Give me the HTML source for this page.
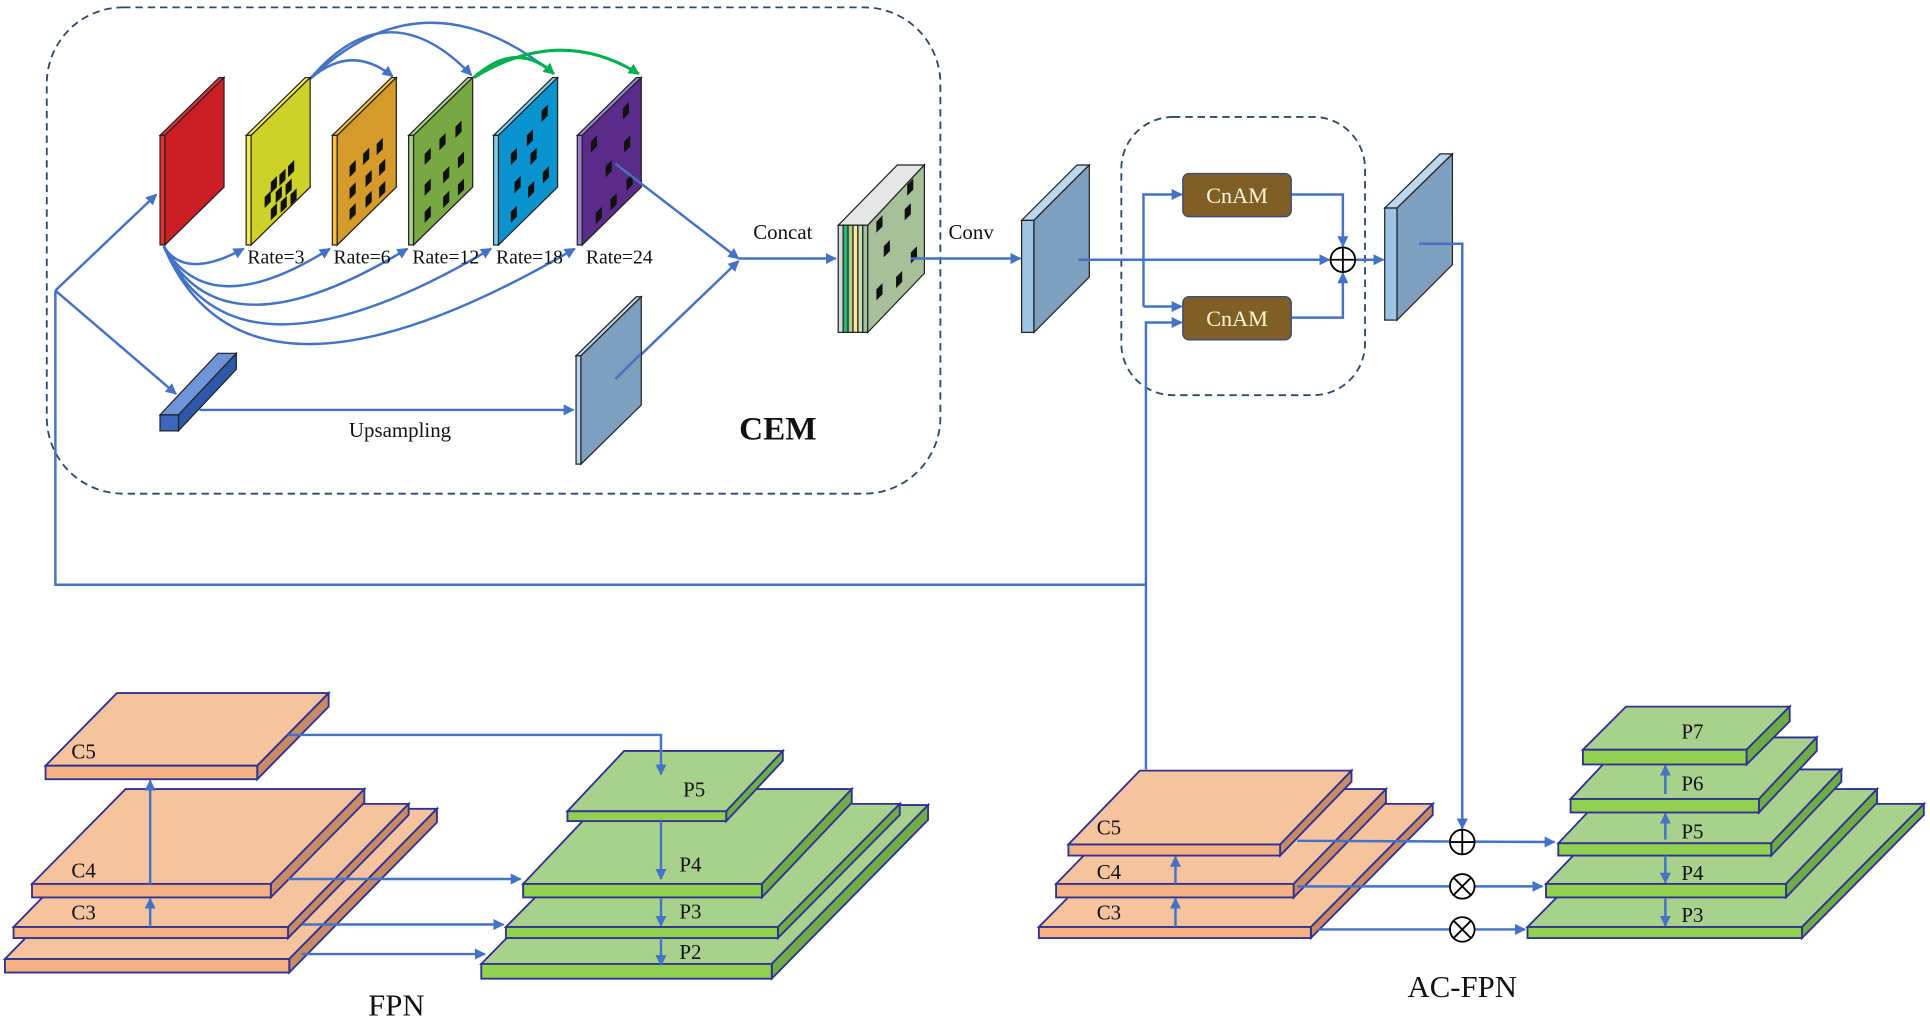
<!DOCTYPE html>
<html><head><meta charset="utf-8"><style>
html,body{margin:0;padding:0;background:#fff;}
svg{display:block;}
text{font-family:"Liberation Serif",serif;fill:#111;}
</style></head><body>
<svg width="1930" height="1023" viewBox="0 0 1568 831" preserveAspectRatio="none" xmlns="http://www.w3.org/2000/svg">
<defs>
<marker id="ab" viewBox="0 0 10 10" refX="9" refY="5" markerWidth="9" markerHeight="9" orient="auto" markerUnits="userSpaceOnUse"><path d="M0,0 L10,5 L0,10 z" fill="#4472c4"/></marker>
<marker id="ag" viewBox="0 0 10 10" refX="9" refY="5" markerWidth="9" markerHeight="9" orient="auto" markerUnits="userSpaceOnUse"><path d="M0,0 L10,5 L0,10 z" fill="#00b050"/></marker>
<polygon id="sq" points="0,0 5,-5 5,4 0,9" fill="#111"/>
</defs>

<rect x="38" y="6" width="726" height="395" rx="62" fill="none" stroke="#2f4a6e" stroke-width="1.5" stroke-dasharray="6,4"/>
<rect x="911" y="95" width="198" height="226" rx="42" fill="none" stroke="#2f4a6e" stroke-width="1.5" stroke-dasharray="6,4"/>

<g fill="none" stroke="#4472c4" stroke-width="2">
<path d="M133,200 Q150,228 198,202" marker-end="url(#ab)"/>
<path d="M133,200 Q170,264 268,202" marker-end="url(#ab)"/>
<path d="M133,200 Q180,294 331,202" marker-end="url(#ab)"/>
<path d="M133,200 Q190,326 399,202" marker-end="url(#ab)"/>
<path d="M133,200 Q200,358 467,202" marker-end="url(#ab)"/>
<path d="M252,64 Q285,35 319,62" marker-end="url(#ab)"/>
<path d="M252,64 Q315,-10 383,61" marker-end="url(#ab)"/>
<path d="M252,64 Q345,-25 450,60" marker-end="url(#ab)"/>
</g>
<g fill="none" stroke="#00b050" stroke-width="2.5">
<path d="M385,63 Q420,32 450,60" marker-end="url(#ag)"/>
<path d="M385,63 Q455,20 519,60" marker-end="url(#ag)"/>
</g>

<g transform="translate(130,0)"><polygon points="0,110 4,110 52,63 48,63" fill="#e0302f" stroke="#222" stroke-width="1"/><rect x="0" y="110" width="4" height="89" fill="#e0302f" stroke="#222" stroke-width="1"/><polygon points="4,110 52,63 52,152 4,199" fill="#cc1f25" stroke="#222" stroke-width="1"/></g>
<g transform="translate(200,0)"><polygon points="0,110 4,110 52,63 48,63" fill="#f4ee5a" stroke="#222" stroke-width="1"/><rect x="0" y="110" width="4" height="89" fill="#f4ee5a" stroke="#222" stroke-width="1"/><polygon points="4,110 52,63 52,152 4,199" fill="#cdd12a" stroke="#222" stroke-width="1"/>
<use href="#sq" x="20" y="148"/><use href="#sq" x="27" y="142"/><use href="#sq" x="34" y="135"/><use href="#sq" x="15" y="160"/><use href="#sq" x="24" y="156"/><use href="#sq" x="32" y="150"/><use href="#sq" x="20" y="170"/><use href="#sq" x="28" y="164"/><use href="#sq" x="36" y="158"/></g>
<g transform="translate(270,0)"><polygon points="0,110 4,110 52,63 48,63" fill="#f5c040" stroke="#222" stroke-width="1"/><rect x="0" y="110" width="4" height="89" fill="#f5c040" stroke="#222" stroke-width="1"/><polygon points="4,110 52,63 52,152 4,199" fill="#d49a2a" stroke="#222" stroke-width="1"/>
<use href="#sq" x="14" y="135"/><use href="#sq" x="25" y="125"/><use href="#sq" x="36" y="117"/><use href="#sq" x="14" y="153"/><use href="#sq" x="27" y="143"/><use href="#sq" x="38" y="134"/><use href="#sq" x="14" y="170"/><use href="#sq" x="27" y="160"/><use href="#sq" x="38" y="152"/></g>
<g transform="translate(332,0)"><polygon points="0,110 4,110 52,63 48,63" fill="#a9d18e" stroke="#222" stroke-width="1"/><rect x="0" y="110" width="4" height="89" fill="#a9d18e" stroke="#222" stroke-width="1"/><polygon points="4,110 52,63 52,152 4,199" fill="#77a844" stroke="#222" stroke-width="1"/>
<use href="#sq" x="13" y="125"/><use href="#sq" x="25" y="113"/><use href="#sq" x="38" y="103"/><use href="#sq" x="13" y="150"/><use href="#sq" x="28" y="140"/><use href="#sq" x="40" y="128"/><use href="#sq" x="13" y="172"/><use href="#sq" x="28" y="160"/><use href="#sq" x="40" y="150"/></g>
<g transform="translate(401,0)"><polygon points="0,110 4,110 52,63 48,63" fill="#7fd0f0" stroke="#222" stroke-width="1"/><rect x="0" y="110" width="4" height="89" fill="#7fd0f0" stroke="#222" stroke-width="1"/><polygon points="4,110 52,63 52,152 4,199" fill="#0b93cf" stroke="#222" stroke-width="1"/>
<use href="#sq" x="14" y="125"/><use href="#sq" x="27" y="110"/><use href="#sq" x="39" y="90"/><use href="#sq" x="17" y="148"/><use href="#sq" x="30" y="125"/><use href="#sq" x="40" y="140"/><use href="#sq" x="14" y="172"/><use href="#sq" x="28" y="152"/></g>
<g transform="translate(469,0)"><polygon points="0,110 4,110 52,63 48,63" fill="#9b7fd0" stroke="#222" stroke-width="1"/><rect x="0" y="110" width="4" height="89" fill="#9b7fd0" stroke="#222" stroke-width="1"/><polygon points="4,110 52,63 52,152 4,199" fill="#5b2b8a" stroke="#222" stroke-width="1"/>
<use href="#sq" x="11" y="115"/><use href="#sq" x="37" y="88"/><use href="#sq" x="23" y="135"/><use href="#sq" x="38" y="115"/><use href="#sq" x="15" y="173"/><use href="#sq" x="27" y="162"/><use href="#sq" x="40" y="146"/></g>

<g font-size="16">
<text x="201" y="214">Rate=3</text><text x="271" y="214">Rate=6</text><text x="335" y="214">Rate=12</text><text x="403" y="214">Rate=18</text><text x="476" y="214">Rate=24</text>
</g>

<g fill="none" stroke="#4472c4" stroke-width="2">
<polyline points="45,236 45,475 931,475"/>
<line x1="45" y1="236" x2="127" y2="158" marker-end="url(#ab)"/>
<line x1="45" y1="236" x2="143" y2="320" marker-end="url(#ab)"/>
<line x1="162" y1="333" x2="466" y2="333" marker-end="url(#ab)"/>
<line x1="500" y1="133" x2="600" y2="210" marker-end="url(#ab)"/>
<line x1="500" y1="308" x2="600" y2="212" marker-end="url(#ab)"/>
<line x1="600" y1="210" x2="679" y2="210" marker-end="url(#ab)"/>
</g>
<polygon points="130,337 145,337 192,287 177,287" fill="#6f95d8" stroke="#222" stroke-width="1"/>
<polygon points="145,337 192,287 192,300 145,350" fill="#2f59a8" stroke="#222" stroke-width="1"/>
<rect x="130" y="337" width="15" height="13" fill="#3d67bd" stroke="#222" stroke-width="1"/>
<polygon points="468,289 472,289 521,241 517,241" fill="#bdd7ee" stroke="#222" stroke-width="1"/>
<rect x="468" y="289" width="4" height="88" fill="#bdd7ee" stroke="#222" stroke-width="1"/>
<polygon points="472,289 521,241 521,329 472,377" fill="#7f9fbf" stroke="#222" stroke-width="1"/>
<line x1="500" y1="308" x2="520" y2="288" stroke="#4472c4" stroke-width="2"/>
<text x="325" y="355" font-size="17" text-anchor="middle">Upsampling</text>
<text x="632" y="357" font-size="27" font-weight="bold" text-anchor="middle">CEM</text>
<text x="636" y="194" font-size="17" text-anchor="middle">Concat</text>

<g stroke="#222" stroke-width="1">
<polygon points="681,183 729,134 751,134 705,183" fill="#e7e6e6"/>
<rect x="681" y="183" width="4" height="87" fill="#d9d9d9"/>
<rect x="685" y="183" width="4" height="87" fill="#2bb673"/>
<rect x="689" y="183" width="4" height="87" fill="#a9d18e"/>
<rect x="693" y="183" width="4" height="87" fill="#ffe699"/>
<rect x="697" y="183" width="4" height="87" fill="#c5e0b4"/>
<rect x="701" y="183" width="4" height="87" fill="#a8c09a"/>
<polygon points="705,183 751,134 751,222 705,270" fill="#a8c09a"/>
</g>
<use href="#sq" x="737" y="150"/><use href="#sq" x="712" y="180"/><use href="#sq" x="735" y="170"/><use href="#sq" x="718" y="200"/><use href="#sq" x="740" y="205"/><use href="#sq" x="712" y="235"/><use href="#sq" x="728" y="225"/>
<line x1="740" y1="210" x2="829" y2="210" stroke="#4472c4" stroke-width="2" marker-end="url(#ab)"/>
<text x="789" y="194" font-size="17" text-anchor="middle">Conv</text>

<polygon points="830,179 840,179 885,134 875,134" fill="#bdd7ee" stroke="#222" stroke-width="1"/>
<rect x="830" y="179" width="10" height="91" fill="#9dc3e6" stroke="#222" stroke-width="1"/>
<polygon points="840,179 885,134 885,225 840,270" fill="#7f9fbf" stroke="#222" stroke-width="1"/>

<g fill="none" stroke="#4472c4" stroke-width="2">
<line x1="876" y1="211" x2="1080" y2="211" marker-end="url(#ab)"/>
<polyline points="929,249 929,158 960,158" marker-end="url(#ab)"/>
<line x1="929" y1="249" x2="960" y2="249" marker-end="url(#ab)"/>
<polyline points="931,625 931,262 960,262" marker-end="url(#ab)"/>
<polyline points="1049,158 1091,158 1091,200" marker-end="url(#ab)"/>
<polyline points="1049,258 1091,258 1091,222" marker-end="url(#ab)"/>
<line x1="1101" y1="211" x2="1124" y2="211" marker-end="url(#ab)"/>
<polyline points="1153,198 1188,198 1188,673" marker-end="url(#ab)"/>
</g>
<rect x="961" y="141" width="88" height="35" rx="5" fill="#7f5f26" stroke="#3b4f7a" stroke-width="1.2"/>
<rect x="961" y="241" width="88" height="35" rx="5" fill="#7f5f26" stroke="#3b4f7a" stroke-width="1.2"/>
<text x="1005" y="165" font-size="18" text-anchor="middle" style="fill:#fff6d5">CnAM</text>
<text x="1005" y="265" font-size="18" text-anchor="middle" style="fill:#fff6d5">CnAM</text>
<g stroke="#000" stroke-width="1.5" fill="#fff"><circle cx="1091" cy="211" r="10"/><line x1="1081" y1="211" x2="1101" y2="211"/><line x1="1091" y1="201" x2="1091" y2="221"/></g>

<polygon points="1125,169 1135,169 1180,125 1170,125" fill="#bdd7ee" stroke="#222" stroke-width="1"/>
<rect x="1125" y="169" width="10" height="91" fill="#9dc3e6" stroke="#222" stroke-width="1"/>
<polygon points="1135,169 1180,125 1180,215 1135,260" fill="#7f9fbf" stroke="#222" stroke-width="1"/>
<line x1="1153" y1="198" x2="1188" y2="198" stroke="#4472c4" stroke-width="2"/>

<g stroke="#2e3192" stroke-width="1.5">
<polygon points="4,779 235,779 355,657 124,657" fill="#f6c39f"/><polygon points="235,779 355,657 355,668 235,790" fill="#c98b66"/><rect x="4" y="779" width="231" height="11" fill="#f4b183"/>
<polygon points="11,753 234,753 332,653 109,653" fill="#f6c39f"/><polygon points="234,753 332,653 332,662 234,762" fill="#c98b66"/><rect x="11" y="753" width="223" height="9" fill="#f4b183"/>
<polygon points="26,718 220,718 296,641 102,641" fill="#f6c39f"/><polygon points="220,718 296,641 296,652 220,729" fill="#c98b66"/><rect x="26" y="718" width="194" height="11" fill="#f4b183"/>
<polygon points="37,622 209,622 267,563 95,563" fill="#f6c39f"/><polygon points="209,622 267,563 267,574 209,633" fill="#c98b66"/><rect x="37" y="622" width="172" height="11" fill="#f4b183"/>
</g>
<g stroke="#2e3192" stroke-width="1.5">
<polygon points="391,783 627,783 754,654 518,654" fill="#a9d18e"/><polygon points="627,783 754,654 754,666 627,795" fill="#70ad47"/><rect x="391" y="783" width="236" height="12" fill="#92d050"/>
<polygon points="411,753 632,753 731,653 510,653" fill="#a9d18e"/><polygon points="632,753 731,653 731,662 632,762" fill="#70ad47"/><rect x="411" y="753" width="221" height="9" fill="#92d050"/>
<polygon points="425,718 619,718 692,641 498,641" fill="#a9d18e"/><polygon points="619,718 692,641 692,652 619,729" fill="#70ad47"/><rect x="425" y="718" width="194" height="11" fill="#92d050"/>
<polygon points="461,659 590,659 636,610 507,610" fill="#a9d18e"/><polygon points="590,659 636,610 636,618 590,667" fill="#70ad47"/><rect x="461" y="659" width="129" height="8" fill="#92d050"/>
</g>
<g fill="none" stroke="#4472c4" stroke-width="2">
<polyline points="234,597 537,597 537,629" marker-end="url(#ab)"/>
<line x1="122" y1="718" x2="122" y2="634" marker-end="url(#ab)"/>
<line x1="122" y1="753" x2="122" y2="730" marker-end="url(#ab)"/>
<line x1="234" y1="714" x2="423" y2="714" marker-end="url(#ab)"/>
<line x1="245" y1="751" x2="409" y2="751" marker-end="url(#ab)"/>
<line x1="245" y1="775" x2="394" y2="775" marker-end="url(#ab)"/>
<line x1="537" y1="667" x2="537" y2="714" marker-end="url(#ab)"/>
<line x1="537" y1="730" x2="537" y2="752" marker-end="url(#ab)"/>
<line x1="537" y1="762" x2="537" y2="784" marker-end="url(#ab)"/>
</g>
<g font-size="17">
<text x="58" y="616">C5</text><text x="58" y="713">C4</text><text x="58" y="747">C3</text>
<text x="555" y="647">P5</text><text x="552" y="708">P4</text><text x="552" y="746">P3</text><text x="552" y="779">P2</text>
</g>
<text x="322" y="825" font-size="25" text-anchor="middle">FPN</text>

<g stroke="#2e3192" stroke-width="1.5">
<polygon points="844,753 1065,753 1164,653 943,653" fill="#f6c39f"/><polygon points="1065,753 1164,653 1164,662 1065,762" fill="#c98b66"/><rect x="844" y="753" width="221" height="9" fill="#f4b183"/>
<polygon points="858,718 1051,718 1126,641 933,641" fill="#f6c39f"/><polygon points="1051,718 1126,641 1126,652 1051,729" fill="#c98b66"/><rect x="858" y="718" width="193" height="11" fill="#f4b183"/>
<polygon points="868,686 1040,686 1098,626 926,626" fill="#f6c39f"/><polygon points="1040,686 1098,626 1098,635 1040,695" fill="#c98b66"/><rect x="868" y="686" width="172" height="9" fill="#f4b183"/>
</g>
<g stroke="#2e3192" stroke-width="1.5">
<polygon points="1241,753 1464,753 1563,653 1340,653" fill="#a9d18e"/><polygon points="1464,753 1563,653 1563,662 1464,762" fill="#70ad47"/><rect x="1241" y="753" width="223" height="9" fill="#92d050"/>
<polygon points="1256,718 1451,718 1525,641 1330,641" fill="#a9d18e"/><polygon points="1451,718 1525,641 1525,652 1451,729" fill="#70ad47"/><rect x="1256" y="718" width="195" height="11" fill="#92d050"/>
<polygon points="1266,685 1439,685 1496,625 1323,625" fill="#a9d18e"/><polygon points="1439,685 1496,625 1496,635 1439,695" fill="#70ad47"/><rect x="1266" y="685" width="173" height="10" fill="#92d050"/>
<polygon points="1276,649 1429,649 1476,599 1323,599" fill="#a9d18e"/><polygon points="1429,649 1476,599 1476,610 1429,660" fill="#70ad47"/><rect x="1276" y="649" width="153" height="11" fill="#92d050"/>
<polygon points="1286,609 1419,609 1454,574 1321,574" fill="#a9d18e"/><polygon points="1419,609 1454,574 1454,586 1419,621" fill="#70ad47"/><rect x="1286" y="609" width="133" height="12" fill="#92d050"/>
</g>
<g fill="none" stroke="#4472c4" stroke-width="2">
<line x1="955" y1="753" x2="955" y2="730" marker-end="url(#ab)"/>
<line x1="955" y1="718" x2="955" y2="696" marker-end="url(#ab)"/>
<line x1="1054" y1="683" x2="1263" y2="684" marker-end="url(#ab)"/>
<line x1="1054" y1="720" x2="1253" y2="720" marker-end="url(#ab)"/>
<line x1="1071" y1="755" x2="1239" y2="755" marker-end="url(#ab)"/>
<line x1="1353" y1="682" x2="1353" y2="661" marker-end="url(#ab)"/>
<line x1="1353" y1="645" x2="1353" y2="622" marker-end="url(#ab)"/>
<line x1="1353" y1="695" x2="1353" y2="717" marker-end="url(#ab)"/>
<line x1="1353" y1="730" x2="1353" y2="752" marker-end="url(#ab)"/>
</g>
<g stroke="#000" stroke-width="1.5" fill="#fff">
<circle cx="1188" cy="684" r="10"/><line x1="1178" y1="684" x2="1198" y2="684"/><line x1="1188" y1="674" x2="1188" y2="694"/>
<circle cx="1188" cy="720" r="10"/><line x1="1181" y1="713" x2="1195" y2="727"/><line x1="1195" y1="713" x2="1181" y2="727"/>
<circle cx="1188" cy="755" r="10"/><line x1="1181" y1="748" x2="1195" y2="762"/><line x1="1195" y1="748" x2="1181" y2="762"/>
</g>
<g font-size="17">
<text x="891" y="678">C5</text><text x="891" y="714">C4</text><text x="891" y="747">C3</text>
<text x="1366" y="600">P7</text><text x="1366" y="642">P6</text><text x="1366" y="681">P5</text><text x="1366" y="715">P4</text><text x="1366" y="749">P3</text>
</g>
<text x="1188" y="810" font-size="25" text-anchor="middle">AC-FPN</text>
</svg>
</body></html>
